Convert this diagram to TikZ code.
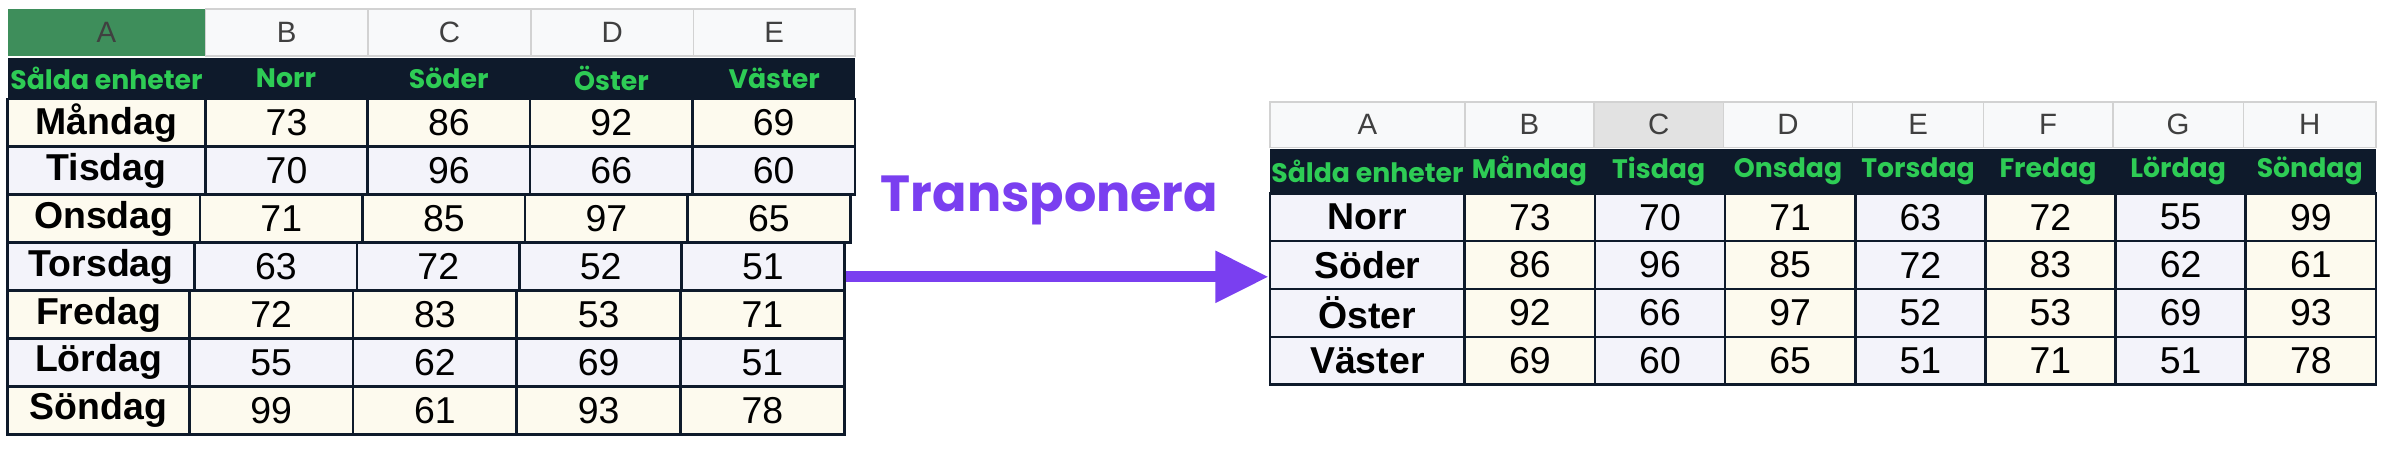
\documentclass[tikz,border=0pt]{standalone}
\usepackage{fontspec}
\setmainfont{Liberation Sans}
\newfontfamily\popfont{Poppins}
\usetikzlibrary{calc,arrows.meta}
\definecolor{navy}{HTML}{0E1A2B}
\definecolor{hdrgreen}{HTML}{2ECC55}
\definecolor{selgreen}{HTML}{3E8E5B}
\definecolor{cream}{HTML}{FDFAEE}
\definecolor{lavender}{HTML}{F3F3FA}
\definecolor{lettergray}{HTML}{F8F9FA}
\definecolor{selgray}{HTML}{E2E2E2}
\definecolor{arrowpurple}{HTML}{7A3FF0}
\tikzset{
  cell/.style={draw=navy, line width=1pt},
  letter/.style={draw=gray!35, line width=0.6pt, fill=lettergray},
  lettertext/.style={font=\fontsize{11}{13}\selectfont, text=black!75},
  titletext/.style={font=\popfont\bfseries\fontsize{10}{12}\selectfont, text=hdrgreen},
  numtext/.style={font=\fontsize{14}{16}\selectfont},
  daytext/.style={font=\bfseries\fontsize{14}{16}\selectfont}
}
% cell: name, x1, y1, x2, y2, fill, style, text
\newcommand{\sheetcell}[8]{%
  \path[#6] (#2,#3) rectangle (#4,#5);
  \node[#7] (#1) at ($(#2,#3)!0.5!(#4,#5)$) {#8};}
\begin{document}
\begin{tikzpicture}[x=0.2mm, y=-0.2mm]
\useasboundingbox (0,0) rectangle (1568,295);
% left sheet, column letters
\foreach \c/\xa/\xb [count=\i] in {A/5/135, B/135/242, C/242/349, D/349/456, E/456/562}{
  \ifnum\i=1
    \sheetcell{lL\c}{\xa}{6}{\xb}{37}{fill=selgreen}{lettertext}{\c}
  \else
    \sheetcell{lL\c}{\xa}{6}{\xb}{37}{letter}{lettertext}{\c}
  \fi
}
% left sheet, title row
\fill[navy] (5,38) rectangle (562,65);
\foreach \t/\x [count=\i] in {Sålda enheter/70, Norr/188, Söder/295, Öster/402, Väster/509}
  \node[titletext] (lT\i) at (\x,51.5) {\t};
% left sheet, data rows
\foreach \d/\a/\e/\va/\vb/\vc/\vd [count=\r] in {
    Måndag/135/562/73/86/92/69,
    Tisdag/135/562/70/96/66/60,
    Onsdag/131.5/559/71/85/97/65,
    Torsdag/128/555/63/72/52/51,
    Fredag/124.5/555/72/83/53/71,
    Lördag/124.5/555/55/62/69/51,
    Söndag/124.5/555/99/61/93/78}{
  \pgfmathsetmacro{\ya}{65+31.5*(\r-1)}
  \pgfmathsetmacro{\yb}{\ya+31.5}
  \pgfmathsetmacro{\w}{(\e-\a)/4}
  \pgfmathtruncatemacro{\odd}{mod(\r,2)}
  \ifnum\odd=1 \def\bg{cream}\else\def\bg{lavender}\fi
  \sheetcell{lD\r}{5}{\ya}{\a}{\yb}{cell, fill=\bg}{daytext}{\d}
  \foreach \v [count=\k] in {\va,\vb,\vc,\vd}{
    \pgfmathsetmacro{\xa}{\a+\w*(\k-1)}
    \pgfmathsetmacro{\xb}{\xa+\w}
    \sheetcell{lV\r-\k}{\xa}{\ya}{\xb}{\yb}{cell, fill=\bg}{numtext}{\v}
  }
}
% right sheet, column letters
\foreach \c/\xa/\xb [count=\i] in {A/835/963, B/963/1048, C/1048/1133, D/1133/1218,
    E/1218/1304, F/1304/1389, G/1389/1475, H/1475/1562}{
  \ifnum\i=3
    \sheetcell{rL\c}{\xa}{67}{\xb}{97}{letter, fill=selgray}{lettertext}{\c}
  \else
    \sheetcell{rL\c}{\xa}{67}{\xb}{97}{letter}{lettertext}{\c}
  \fi
}
% right sheet, title row
\fill[navy] (835,98) rectangle (1562,127);
\foreach \t/\x [count=\i] in {Sålda enheter/899, Måndag/1005.5, Tisdag/1090.5, Onsdag/1175.5,
    Torsdag/1261, Fredag/1346.5, Lördag/1432, Söndag/1518.5}
  \node[titletext] (rT\i) at (\x,112.5) {\t};
% right sheet, data rows
\foreach \d/\vals [count=\r] in {Norr/{73,70,71,63,72,55,99}, Söder/{86,96,85,72,83,62,61},
    Öster/{92,66,97,52,53,69,93}, Väster/{69,60,65,51,71,51,78}}{
  \pgfmathsetmacro{\ya}{127+31.5*(\r-1)}
  \pgfmathsetmacro{\yb}{\ya+31.5}
  \sheetcell{rD\r}{835}{\ya}{963}{\yb}{cell, fill=lavender}{daytext}{\d}
  \foreach \v [count=\k] in \vals{
    \pgfmathsetmacro{\xa}{963+85.57*(\k-1)}
    \pgfmathsetmacro{\xb}{\xa+85.57}
    \pgfmathtruncatemacro{\odd}{mod(\k,2)}
    \ifnum\odd=1 \def\bg{cream}\else\def\bg{lavender}\fi
    \sheetcell{rV\r-\k}{\xa}{\ya}{\xb}{\yb}{cell, fill=\bg}{numtext}{\v}
  }
}
% transpose arrow
\coordinate (from) at (556,182);
\coordinate (to) at (834,182);
\draw[arrowpurple, line width=4pt, -{Triangle[length=7mm, width=6.5mm]}] (from) -- (to);
\node[font=\popfont\bfseries\fontsize{19}{22}\selectfont, text=arrowpurple] (label) at (690,132) {Transponera};
\end{tikzpicture}
\end{document}
